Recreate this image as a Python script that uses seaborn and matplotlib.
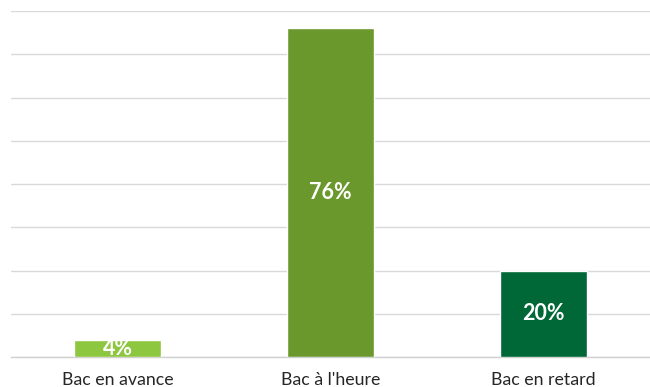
import pandas as pd
import matplotlib
matplotlib.use("Agg")
import matplotlib.pyplot as plt
import seaborn as sns

categories = ["Bac en avance", "Bac à l'heure", "Bac en retard"]
values = [4, 76, 20]
colors = ["#8dc63f", "#6b982d", "#006837"]

df = pd.DataFrame({"cat": categories, "val": values})

sns.set_theme(style="white")
plt.rcParams["font.family"] = ["Lato", "DejaVu Sans"]

fig = plt.figure(figsize=(6.5, 3.87), dpi=100)
ax = fig.add_axes([0.017, 0.0775, 0.983, 0.894])

sns.barplot(data=df, x="cat", y="val", hue="cat", palette=colors,
            width=0.41, legend=False, ax=ax, saturation=1, zorder=3)

ax.set_ylim(0, 80)
ax.set_xlim(-0.5, 2.5)
ax.set_yticks(range(0, 81, 10))
ax.yaxis.grid(True, color="#d9d9d9", linewidth=1, zorder=0)
ax.tick_params(axis="y", left=False, labelleft=False)
ax.tick_params(axis="x", bottom=False, labelsize=12.8, colors="#262626", pad=5)
for s in ["top", "right", "left"]:
    ax.spines[s].set_visible(False)
ax.spines["bottom"].set_color("#d0d0d0")
ax.spines["bottom"].set_linewidth(1)
ax.set_xlabel("")
ax.set_ylabel("")

for i, v in enumerate(values):
    ax.text(i, v / 2, f"{v}%", ha="center", va="center", color="white",
            fontsize=15.5, fontweight="bold", zorder=4)

fig.savefig("out.png", dpi=100)
